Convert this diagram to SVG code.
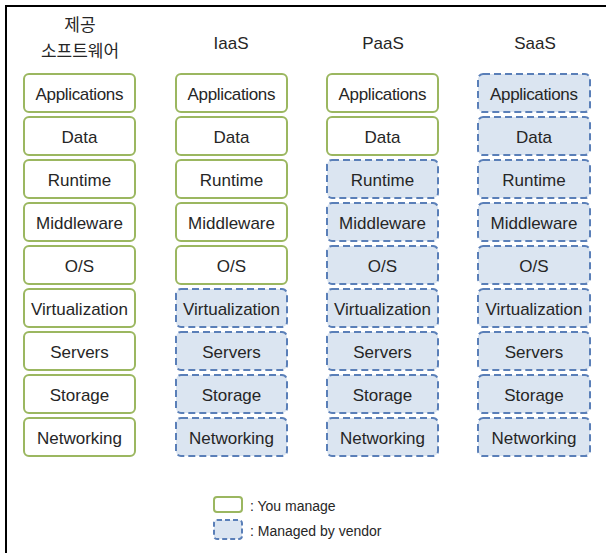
<svg xmlns="http://www.w3.org/2000/svg" width="606" height="553" viewBox="0 0 606 553">
<style>
.you{fill:#ffffff;stroke:#9bb760;stroke-width:2}
.ven{fill:#dbe5f1;stroke:#5a7fb8;stroke-width:2;stroke-dasharray:7 4}
.t{font-family:"Liberation Sans",Arial,sans-serif;font-size:17px;fill:#262626;text-anchor:middle}
.h{font-family:"Liberation Sans","Noto Sans CJK KR",sans-serif;font-size:17px;fill:#262626;text-anchor:middle}
.l{font-family:"Liberation Sans",Arial,sans-serif;font-size:14px;fill:#262626}
</style>
<rect x="0" y="0" width="606" height="553" fill="#ffffff"/>
<path d="M5 6 H606 M6 6 V553" stroke="#000" stroke-width="2" fill="none"/>
<g id="headers">
<text class="h" x="80" y="31">제공</text>
<text class="h" x="80" y="57">소프트웨어</text>
<text class="h" x="231" y="49">IaaS</text>
<text class="h" x="383" y="49">PaaS</text>
<text class="h" x="535" y="49">SaaS</text>
</g>
<g id="col-onprem">
<g id="c1-apps"><rect class="you" x="24" y="74" width="111" height="38" rx="5"/><text class="t" x="79.5" y="100" textLength="88">Applications</text></g>
<g id="c1-data"><rect class="you" x="24" y="117" width="111" height="38" rx="5"/><text class="t" x="79.5" y="143">Data</text></g>
<g id="c1-runtime"><rect class="you" x="24" y="160" width="111" height="38" rx="5"/><text class="t" x="79.5" y="186">Runtime</text></g>
<g id="c1-mw"><rect class="you" x="24" y="203" width="111" height="38" rx="5"/><text class="t" x="79.5" y="229">Middleware</text></g>
<g id="c1-os"><rect class="you" x="24" y="246" width="111" height="38" rx="5"/><text class="t" x="79.5" y="272">O/S</text></g>
<g id="c1-virt"><rect class="you" x="24" y="289" width="111" height="38" rx="5"/><text class="t" x="79.5" y="315" textLength="97">Virtualization</text></g>
<g id="c1-servers"><rect class="you" x="24" y="332" width="111" height="38" rx="5"/><text class="t" x="79.5" y="358">Servers</text></g>
<g id="c1-storage"><rect class="you" x="24" y="375" width="111" height="38" rx="5"/><text class="t" x="79.5" y="401">Storage</text></g>
<g id="c1-net"><rect class="you" x="24" y="418" width="111" height="38" rx="5"/><text class="t" x="79.5" y="444">Networking</text></g>
</g>
<g id="col-iaas">
<g id="c2-apps"><rect class="you" x="176" y="74" width="111" height="38" rx="5"/><text class="t" x="231.5" y="100" textLength="88">Applications</text></g>
<g id="c2-data"><rect class="you" x="176" y="117" width="111" height="38" rx="5"/><text class="t" x="231.5" y="143">Data</text></g>
<g id="c2-runtime"><rect class="you" x="176" y="160" width="111" height="38" rx="5"/><text class="t" x="231.5" y="186">Runtime</text></g>
<g id="c2-mw"><rect class="you" x="176" y="203" width="111" height="38" rx="5"/><text class="t" x="231.5" y="229">Middleware</text></g>
<g id="c2-os"><rect class="you" x="176" y="246" width="111" height="38" rx="5"/><text class="t" x="231.5" y="272">O/S</text></g>
<g id="c2-virt"><rect class="ven" x="176" y="289" width="111" height="38" rx="5"/><text class="t" x="231.5" y="315" textLength="97">Virtualization</text></g>
<g id="c2-servers"><rect class="ven" x="176" y="332" width="111" height="38" rx="5"/><text class="t" x="231.5" y="358">Servers</text></g>
<g id="c2-storage"><rect class="ven" x="176" y="375" width="111" height="38" rx="5"/><text class="t" x="231.5" y="401">Storage</text></g>
<g id="c2-net"><rect class="ven" x="176" y="418" width="111" height="38" rx="5"/><text class="t" x="231.5" y="444">Networking</text></g>
</g>
<g id="col-paas">
<g id="c3-apps"><rect class="you" x="327" y="74" width="111" height="38" rx="5"/><text class="t" x="382.5" y="100" textLength="88">Applications</text></g>
<g id="c3-data"><rect class="you" x="327" y="117" width="111" height="38" rx="5"/><text class="t" x="382.5" y="143">Data</text></g>
<g id="c3-runtime"><rect class="ven" x="327" y="160" width="111" height="38" rx="5"/><text class="t" x="382.5" y="186">Runtime</text></g>
<g id="c3-mw"><rect class="ven" x="327" y="203" width="111" height="38" rx="5"/><text class="t" x="382.5" y="229">Middleware</text></g>
<g id="c3-os"><rect class="ven" x="327" y="246" width="111" height="38" rx="5"/><text class="t" x="382.5" y="272">O/S</text></g>
<g id="c3-virt"><rect class="ven" x="327" y="289" width="111" height="38" rx="5"/><text class="t" x="382.5" y="315" textLength="97">Virtualization</text></g>
<g id="c3-servers"><rect class="ven" x="327" y="332" width="111" height="38" rx="5"/><text class="t" x="382.5" y="358">Servers</text></g>
<g id="c3-storage"><rect class="ven" x="327" y="375" width="111" height="38" rx="5"/><text class="t" x="382.5" y="401">Storage</text></g>
<g id="c3-net"><rect class="ven" x="327" y="418" width="111" height="38" rx="5"/><text class="t" x="382.5" y="444">Networking</text></g>
</g>
<g id="col-saas">
<g id="c4-apps"><rect class="ven" x="478" y="74" width="112" height="38" rx="5"/><text class="t" x="534" y="100" textLength="88">Applications</text></g>
<g id="c4-data"><rect class="ven" x="478" y="117" width="112" height="38" rx="5"/><text class="t" x="534" y="143">Data</text></g>
<g id="c4-runtime"><rect class="ven" x="478" y="160" width="112" height="38" rx="5"/><text class="t" x="534" y="186">Runtime</text></g>
<g id="c4-mw"><rect class="ven" x="478" y="203" width="112" height="38" rx="5"/><text class="t" x="534" y="229">Middleware</text></g>
<g id="c4-os"><rect class="ven" x="478" y="246" width="112" height="38" rx="5"/><text class="t" x="534" y="272">O/S</text></g>
<g id="c4-virt"><rect class="ven" x="478" y="289" width="112" height="38" rx="5"/><text class="t" x="534" y="315" textLength="97">Virtualization</text></g>
<g id="c4-servers"><rect class="ven" x="478" y="332" width="112" height="38" rx="5"/><text class="t" x="534" y="358">Servers</text></g>
<g id="c4-storage"><rect class="ven" x="478" y="375" width="112" height="38" rx="5"/><text class="t" x="534" y="401">Storage</text></g>
<g id="c4-net"><rect class="ven" x="478" y="418" width="112" height="38" rx="5"/><text class="t" x="534" y="444">Networking</text></g>
</g>
<g id="connectors"></g>
<g id="legend">
<rect class="you" x="214" y="497" width="28" height="15" rx="3"/>
<text class="l" x="250" y="511">: You manage</text>
<rect class="ven" x="214" y="520" width="28" height="19" rx="3" style="stroke-dasharray:5 3"/>
<text class="l" x="250" y="536">: Managed by vendor</text>
</g>
</svg>
